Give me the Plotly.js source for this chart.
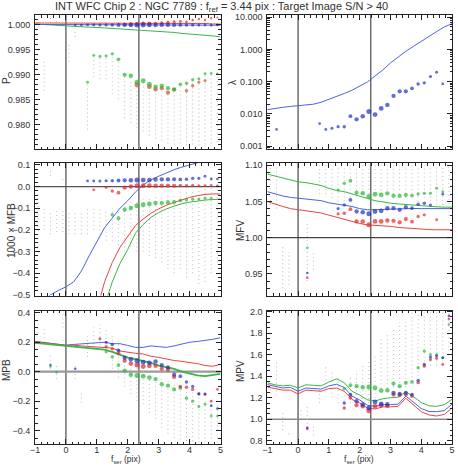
<!DOCTYPE html>
<html>
<head>
<meta charset="utf-8">
<script src="https://cdn.plot.ly/plotly-3.0.1.min.js"></script>
<style>
  html, body { margin: 0; padding: 0; background: #ffffff; }
  #chart { width: 458px; height: 466px; }
</style>
</head>
<body>
<div id="chart"></div>
<script>
const N = null;

// Bin centres (f_ser, pix) of the per-bin statistics and the number of stars per bin
const xBins = [-0.9,-0.7,-0.5,-0.3,-0.1,0.1,0.3,0.5,0.7,0.9,1.1,1.3,1.5,1.7,1.9,2.1,2.3,2.5,2.7,2.9,3.1,3.3,3.5,3.7,3.9,4.1,4.3,4.5,4.7,4.9];
const binStars = [2,3,2,2,2,2,3,3,4,5,6,7,9,14,20,24,32,30,28,22,20,20,18,12,9,8,6,5,4,3];

// Abscissae of the smoothed model curves
const lineX = [-1,-0.75,-0.5,-0.25,0,0.25,0.5,0.75,1,1.25,1.5,1.75,2,2.25,2.5,2.75,3,3.25,3.5,3.75,4,4.25,4.5,4.75,5];

// Reference positions marked in every panel
const markX = [0, 2.36];

// ---------- P ----------
const pRedLine   = [1.0004,1.0004,1.0003,1.0003,1.0003,1.0003,1.0003,1.0003,1.0003,1.0003,1.0003,1.0003,1.0003,1.0003,1.0003,1.0003,1.0003,1.0003,1.0003,1.0003,1.0003,1.0003,1.0003,1.0002,1.0002];
const pBlueLine  = [1.0001,1.0001,1.0000,1.0000,1.0000,1.0000,1.0000,1.0000,1.0000,1.0000,1.0000,1.0000,1.0000,1.0000,1.0000,1.0000,1.0000,1.0000,1.0000,1.0000,1.0000,1.0000,1.0000,1.0000,0.99995];
const pGreenLine = [1.0002,1.0001,1.0000,0.9998,0.9997,0.99965,0.9996,0.99955,0.9995,0.9994,0.99935,0.9993,0.99925,0.9991,0.99895,0.9988,0.9987,0.9986,0.9985,0.9983,0.9982,0.9981,0.9980,0.9978,0.9976];
const pBlueDots  = [N,N,N,N,N,N,1.0000,1.0000,1.0000,1.0000,1.0000,1.0000,1.0000,1.0000,1.0000,1.0000,1.0000,1.0000,1.0000,1.0000,1.0000,1.0000,1.0000,1.0000,1.0000,1.0000,1.0000,1.0000,0.99995,1.0000];
const pRedDots   = [N,N,N,N,N,N,N,N,N,N,N,N,N,N,1.0001,1.0002,1.0002,1.0003,1.0003,1.0003,1.0004,1.0005,1.0006,1.0007,1.0006,1.0010,1.0012,1.0010,1.0014,1.0015];
const pRedDots2  = [N,N,N,N,N,N,N,N,N,N,N,N,N,N,N,N,0.9880,N,0.9876,0.9871,0.9873,0.9864,0.9871,N,0.9868,0.9878,0.9885,0.9888,N,N];
const pGreenDots = [N,N,N,N,N,N,N,N,0.9885,0.9939,0.9937,0.9938,0.9942,0.9931,0.9900,0.9898,0.9885,0.9888,0.9881,0.9876,0.9878,0.9873,0.9870,0.9881,0.9883,0.9890,0.9892,0.9902,0.9903,0.9902];
const pStarX  = [-0.9,-0.7,-0.5,-0.3,0.1,0.3,0.7,0.9,1.1,1.3,1.5,1.7,1.9,2.1,2.3,2.5,2.7,2.9,3.1,3.3,3.5,3.7,3.9,4.1,4.3,4.5,4.7,4.9,1.7,2.5,3.3,4.1,4.7];
const pStarLo = [0.9995,0.9868,1.0004,0.9998,0.9926,0.9976,0.9790,0.9895,0.9891,0.9891,0.9861,0.9851,0.9813,0.9803,0.9793,0.9786,0.9778,0.9772,0.9768,0.9762,0.9760,0.9762,0.9758,0.9760,0.9758,0.9760,0.9762,0.9765,1.0004,1.0005,1.0006,1.0008,1.0010];
const pStarHi = [1.0012,0.9930,1.0014,1.0010,0.9966,0.9990,0.9885,0.9939,0.9937,0.9939,0.9942,0.9932,0.9902,0.9898,0.9890,0.9888,0.9882,0.9878,0.9878,0.9873,0.9870,0.9881,0.9883,0.9890,0.9892,0.9902,0.9903,0.9902,1.0010,1.0012,1.0013,1.0016,1.0018];

// ---------- lambda ----------
const lamBlueLine = [0.0135,0.015,0.016,0.017,0.018,0.0185,0.020,0.023,0.028,0.035,0.043,0.054,0.072,0.098,0.15,0.23,0.38,0.58,0.88,1.25,1.8,2.6,3.6,5.0,6.3];
const lamBlueDots = [N,0.0033,N,N,N,N,N,N,0.0050,0.0033,0.0036,0.0040,0.0040,0.0085,0.0068,0.0085,0.0118,0.0095,0.0148,0.0190,0.036,0.050,0.050,0.062,0.085,0.092,0.145,0.195,0.085,N];
const lamStarX  = [-0.9,-0.5,-0.3,0.3];
const lamStarLo = [0.0012,0.00100,0.00100,0.00100];
const lamStarHi = [0.0016,0.00108,0.00108,0.00108];

// ---------- 1000 x MFB ----------
const mfbBlueLine  = [-0.56,-0.53,-0.50,-0.48,-0.463,-0.44,-0.39,-0.32,-0.255,-0.19,-0.145,-0.10,-0.065,-0.025,0.008,0.031,0.048,0.064,0.078,0.09,0.10,0.11,0.12,0.13,0.14];
const mfbRedLine   = [N,N,N,N,N,N,-0.9,-0.72,-0.57,-0.44,-0.35,-0.28,-0.23,-0.18,-0.15,-0.123,-0.103,-0.086,-0.073,-0.06,-0.05,-0.042,-0.036,-0.034,-0.034];
const mfbGreenLine = [N,N,N,N,N,N,N,-0.95,-0.75,-0.55,-0.44,-0.355,-0.29,-0.215,-0.175,-0.142,-0.12,-0.103,-0.09,-0.079,-0.072,-0.066,-0.062,-0.06,-0.058];
const mfbBlueDots  = [N,N,N,N,N,N,N,N,0.026,0.026,0.026,0.027,0.027,0.028,0.029,0.029,0.030,0.030,0.030,0.033,0.033,0.033,0.034,0.033,0.034,0.038,0.038,0.048,0.035,0.035];
const mfbRedDots   = [N,N,N,N,N,N,N,N,N,-0.015,N,-0.003,-0.020,-0.028,-0.005,0.000,0.004,0.004,0.005,0.004,0.004,0.005,0.004,0.005,0.004,0.005,0.004,0.004,0.005,0.004];
const mfbGreenDots = [N,N,N,N,N,N,N,N,N,N,N,N,-0.130,-0.146,-0.107,-0.099,-0.089,-0.084,-0.080,-0.076,-0.076,-0.073,-0.071,-0.064,-0.061,-0.058,-0.057,-0.054,-0.054,N];
const mfbStarX  = [-0.9,-0.7,-0.5,-0.5,-0.3,-0.1,-0.1,0.1,0.3,0.5,0.7,0.9,1.1,1.3,1.5,1.7,1.9,2.1,2.3,2.5,2.7,2.9,3.1,3.3,3.5,3.7,3.9,4.1,4.3,4.5,4.7,4.9];
const mfbStarLo = [-0.28,-0.20,-0.22,0.05,-0.21,-0.21,0.03,-0.22,-0.22,-0.22,-0.22,-0.20,-0.24,-0.25,-0.25,-0.27,-0.30,-0.28,-0.30,-0.30,-0.32,-0.33,-0.35,-0.38,-0.40,-0.38,-0.42,-0.40,-0.45,-0.44,-0.40,-0.35];
const mfbStarHi = [-0.02,-0.10,-0.11,0.075,-0.11,-0.10,0.045,-0.12,-0.11,-0.11,-0.10,-0.10,-0.10,-0.11,-0.10,-0.10,-0.08,-0.07,-0.07,-0.05,-0.05,-0.04,-0.04,-0.03,-0.03,-0.02,-0.02,-0.02,-0.02,-0.01,0.0,0.0];

// ---------- MFV ----------
const mfvGreenLine = [1.0877,1.085,1.082,1.079,1.077,1.076,1.0745,1.072,1.068,1.065,1.0635,1.060,1.057,1.054,1.051,1.049,1.0475,1.0465,1.0455,1.0448,1.044,1.043,1.0425,1.042,1.042];
const mfvBlueLine  = [1.0634,1.060,1.0575,1.0555,1.0543,1.054,1.0525,1.051,1.048,1.0465,1.045,1.043,1.040,1.0385,1.0385,1.039,1.0395,1.040,1.0405,1.0402,1.040,1.040,1.040,1.040,1.040];
const mfvRedLine   = [1.0497,1.046,1.043,1.040,1.0385,1.038,1.0365,1.034,1.031,1.028,1.0245,1.022,1.0195,1.0175,1.017,1.0165,1.0155,1.014,1.013,1.012,1.0118,1.011,1.0108,1.0108,1.0108];
const mfvGreenDots = [N,N,N,N,N,N,0.986,N,N,N,N,1.0657,1.0749,1.0785,1.062,1.0611,1.0566,1.0598,1.0589,1.0611,1.0579,1.0575,1.0589,1.0579,1.0602,1.0611,1.0611,1.068,1.0634,N];
const mfvBlueDots  = [N,N,N,N,N,N,0.951,N,N,N,N,1.040,1.0451,1.052,1.036,1.035,1.0328,1.036,1.0369,1.0406,1.0406,1.0383,1.042,1.0406,1.046,1.0474,1.045,N,1.06,N];
const mfvRedDots   = [N,N,N,N,N,N,0.9445,N,N,N,N,1.0328,1.0337,1.0392,1.0223,1.0223,1.0177,1.0223,1.0223,1.0236,1.0232,1.021,1.0255,1.022,1.0291,1.0314,N,1.0246,N,N];
const mfvStarX  = [-0.9,-0.7,-0.5,-0.3,0.3,0.5,0.7,0.9,1.1,1.3,1.5,1.7,1.9,2.1,2.3,2.5,2.7,2.9,3.1,3.3,3.5,3.7,3.9,4.1,4.3,4.5,4.7,4.9];
const mfvStarLo = [1.045,1.04,0.93,0.935,0.94,0.955,1.06,1.06,1.055,1.05,1.05,1.055,1.06,1.06,1.055,1.06,1.06,1.06,1.055,1.06,1.055,1.06,1.05,1.055,1.05,1.04,1.045,1.03];
const mfvStarHi = [1.10,1.10,0.99,0.98,1.02,0.98,1.10,1.10,1.10,1.10,1.10,1.10,1.10,1.10,1.10,1.10,1.10,1.10,1.10,1.10,1.10,1.10,1.10,1.10,1.10,1.10,1.10,1.10];

// ---------- MPB ----------
const mpbBlueLine  = [0.205,0.198,0.192,0.185,0.18,0.185,0.19,0.19,0.195,0.2,0.19,0.19,0.178,0.165,0.165,0.175,0.17,0.165,0.175,0.19,0.2,0.205,0.21,0.22,0.23];
const mpbRedLine   = [0.205,0.2,0.19,0.185,0.178,0.18,0.175,0.17,0.17,0.165,0.16,0.14,0.13,0.125,0.12,0.105,0.097,0.085,0.076,0.07,0.065,0.055,0.042,0.037,0.05];
const mpbGreenLine = [0.195,0.19,0.185,0.18,0.175,0.165,0.16,0.155,0.152,0.15,0.135,0.115,0.095,0.085,0.075,0.06,0.042,0.03,0.019,0.0,-0.015,-0.025,-0.03,-0.025,-0.015];
const mpbBlueDots  = [N,N,0.045,N,N,N,0.02,N,N,N,N,0.20,0.185,0.145,0.095,0.085,0.075,0.065,0.06,0.07,0.045,0.03,-0.02,-0.03,-0.07,-0.10,-0.15,-0.15,-0.23,-0.25];
const mpbRedDots   = [N,N,N,N,N,N,N,N,N,N,0.223,0.17,0.155,0.125,0.075,0.055,0.045,0.035,0.04,0.04,0.02,0.015,-0.035,-0.10,-0.105,-0.12,-0.15,-0.155,-0.20,-0.12];
const mpbGreenDots = [N,N,0.035,-0.003,N,N,N,N,N,N,N,0.135,0.10,0.045,0.008,-0.02,-0.025,-0.03,-0.04,-0.05,-0.085,-0.095,-0.12,-0.11,-0.18,-0.20,-0.235,-0.22,-0.30,-0.30];
const mpbStarX  = [-0.9,-0.7,-0.5,-0.3,-0.1,-0.1,0.3,0.5,0.7,0.9,1.1,1.3,1.5,1.7,1.9,2.1,2.3,2.5,2.7,2.9,3.1,3.3,3.5,3.7,3.9,4.1,4.3,4.5,4.7,4.9];
const mpbStarLo = [0.26,0.20,0.02,-0.05,0.30,0.18,-0.05,-0.21,0.10,0.16,0.18,0.14,0.02,-0.04,-0.10,-0.15,-0.20,-0.22,-0.28,-0.32,-0.38,-0.42,-0.45,-0.46,-0.47,-0.47,-0.48,-0.48,-0.48,-0.48];
const mpbStarHi = [0.36,0.30,0.12,0.04,0.40,0.22,0.05,-0.14,0.24,0.30,0.32,0.30,0.26,0.22,0.10,0.08,0.05,0.02,0.0,-0.02,-0.04,-0.06,-0.08,-0.10,-0.12,-0.14,-0.16,-0.18,-0.20,-0.22];

// ---------- MPV ----------
const mpvGreenLine = [1.338,1.32,1.31,1.315,1.291,1.32,1.315,1.31,1.345,1.375,1.34,1.26,1.225,1.18,1.17,1.19,1.2,1.205,1.255,1.21,1.155,1.125,1.12,1.135,1.185];
const mpvBlueLine  = [1.322,1.305,1.29,1.295,1.26,1.29,1.285,1.28,1.31,1.325,1.295,1.215,1.18,1.13,1.12,1.135,1.135,1.14,1.215,1.16,1.1,1.072,1.07,1.08,1.14];
const mpvRedLine   = [1.30,1.285,1.27,1.27,1.235,1.27,1.265,1.26,1.285,1.29,1.26,1.185,1.15,1.105,1.095,1.115,1.115,1.12,1.195,1.13,1.07,1.04,1.03,1.045,1.105];
const mpvGreenDots = [N,N,N,N,N,N,N,N,N,N,N,N,1.285,1.316,1.307,1.297,1.300,1.29,1.266,1.27,1.331,1.307,1.338,1.347,1.478,1.633,1.602,1.60,1.571,1.88];
const mpvBlueDots  = [N,N,N,N,N,N,0.92,N,N,N,N,N,1.151,1.229,1.167,1.136,1.105,1.161,1.142,1.14,1.245,1.235,1.245,1.23,1.36,1.509,1.577,1.587,1.57,1.96];
const mpvRedDots   = [N,N,N,N,N,N,0.91,N,N,N,N,N,1.105,1.2,1.13,1.12,1.08,1.12,1.13,1.125,1.229,1.225,1.23,1.215,1.34,1.493,1.555,1.565,1.509,1.93];
const mpvStarX  = [-0.9,-0.7,-0.5,-0.3,0.1,0.3,0.5,0.7,0.9,1.1,1.3,1.5,1.7,1.9,2.1,2.3,2.5,2.7,2.9,3.1,3.3,3.5,3.7,3.9,4.1,4.3,4.5,4.7,4.9];
const mpvStarLo = [1.20,1.22,0.90,0.86,1.00,0.92,0.85,1.15,1.25,1.20,1.15,1.10,1.15,1.15,1.15,1.15,1.20,1.25,1.25,1.30,1.30,1.30,1.35,1.40,1.50,1.50,1.50,1.50,1.60];
const mpvStarHi = [1.35,1.55,1.06,0.90,1.10,1.12,0.95,1.30,1.50,1.45,1.40,1.35,1.40,1.45,1.50,1.55,1.60,1.75,1.80,1.85,1.90,1.90,2.00,2.00,2.00,2.00,2.00,2.00,2.00];

// ---------- drawing ----------
const RED = '#e3262b', GREEN = '#2bb83a', BLUE = '#1f30c4';
const RED_L = '#e8453f', GREEN_L = '#3cb544', BLUE_L = '#4d62e0';
const dotSize = binStars.map(n => 1.6 + 0.6 * Math.sqrt(n));

// individual stars: faint dotted columns per bin
function starTrace(xs, lo, hi, xa, ya) {
  const x = [], y = [];
  for (let i = 0; i < xs.length; i++) { x.push(xs[i], xs[i], null); y.push(lo[i], hi[i], null); }
  return { type: 'scatter', mode: 'lines', x, y, xaxis: xa, yaxis: ya,
           line: { color: '#bdbdbd', width: 1, dash: '1px,3px' }, hoverinfo: 'skip', showlegend: false };
}
function curve(ys, color, xa, ya, w) {
  return { type: 'scatter', mode: 'lines', x: lineX, y: ys, xaxis: xa, yaxis: ya,
           line: { color: color, width: w || 1 }, connectgaps: false, hoverinfo: 'skip', showlegend: false };
}
function dots(ys, color, xa, ya, scale) {
  return { type: 'scatter', mode: 'markers', x: xBins, y: ys, xaxis: xa, yaxis: ya,
           marker: { color: color, size: dotSize.map(s => s * (scale || 1)), line: { width: 0 } },
           cliponaxis: true, hoverinfo: 'skip', showlegend: false };
}

const traces = [
  starTrace(pStarX, pStarLo, pStarHi, 'x', 'y'),
  curve(pGreenLine, GREEN_L, 'x', 'y'), curve(pRedLine, RED_L, 'x', 'y'), curve(pBlueLine, BLUE_L, 'x', 'y'),
  dots(pRedDots2, '#d0502a', 'x', 'y'), dots(pGreenDots, GREEN, 'x', 'y'),
  dots(pRedDots, RED, 'x', 'y', 0.8), dots(pBlueDots, BLUE, 'x', 'y'),

  starTrace(lamStarX, lamStarLo, lamStarHi, 'x2', 'y2'),
  curve(lamBlueLine, BLUE_L, 'x2', 'y2'),
  dots(lamBlueDots, BLUE, 'x2', 'y2'),

  starTrace(mfbStarX, mfbStarLo, mfbStarHi, 'x3', 'y3'),
  curve(mfbBlueLine, BLUE_L, 'x3', 'y3'), curve(mfbRedLine, RED_L, 'x3', 'y3'), curve(mfbGreenLine, GREEN_L, 'x3', 'y3'),
  dots(mfbRedDots, RED, 'x3', 'y3'), dots(mfbGreenDots, GREEN, 'x3', 'y3'), dots(mfbBlueDots, BLUE, 'x3', 'y3'),

  starTrace(mfvStarX, mfvStarLo, mfvStarHi, 'x4', 'y4'),
  curve(mfvGreenLine, GREEN_L, 'x4', 'y4'), curve(mfvBlueLine, BLUE_L, 'x4', 'y4'), curve(mfvRedLine, RED_L, 'x4', 'y4'),
  dots(mfvRedDots, RED, 'x4', 'y4'), dots(mfvGreenDots, GREEN, 'x4', 'y4'), dots(mfvBlueDots, BLUE, 'x4', 'y4'),

  starTrace(mpbStarX, mpbStarLo, mpbStarHi, 'x5', 'y5'),
  curve(mpbBlueLine, BLUE_L, 'x5', 'y5'), curve(mpbRedLine, RED_L, 'x5', 'y5'), curve(mpbGreenLine, GREEN_L, 'x5', 'y5', 1.8),
  dots(mpbGreenDots, GREEN, 'x5', 'y5'), dots(mpbRedDots, RED, 'x5', 'y5'), dots(mpbBlueDots, BLUE, 'x5', 'y5'),

  starTrace(mpvStarX, mpvStarLo, mpvStarHi, 'x6', 'y6'),
  curve(mpvGreenLine, GREEN_L, 'x6', 'y6'), curve(mpvBlueLine, BLUE_L, 'x6', 'y6'), curve(mpvRedLine, RED_L, 'x6', 'y6'),
  dots(mpvGreenDots, GREEN, 'x6', 'y6'), dots(mpvRedDots, RED, 'x6', 'y6'), dots(mpvBlueDots, BLUE, 'x6', 'y6')
];

// Panel geometry (paper fractions of the 458 x 466 figure)
const W = 458, H = 466;
const colL = [35 / W, 220.5 / W], colR = [267.3 / W, 452 / W];
const row1 = [(H - 149) / H, (H - 15) / H];
const row2 = [(H - 295.5) / H, (H - 163) / H];
const row3 = [(H - 444) / H, (H - 310.5) / H];

const FONT = 'Liberation Sans, Arial, Helvetica, sans-serif';
const tickFont = { family: FONT, size: 9, color: '#333333' };
const FRAME = '#222222';

function xAxis(domain, anchor, labels) {
  return { domain, anchor, range: [-1, 5], tickmode: 'linear', tick0: 0, dtick: 1,
    showticklabels: labels, tickfont: tickFont, ticks: 'inside', ticklen: 5, tickwidth: 1, tickcolor: FRAME,
    ticklabelstandoff: -3,
    minor: { ticks: 'inside', ticklen: 2.5, tickwidth: 1, tickcolor: FRAME, dtick: 0.2, tick0: 0, showgrid: false },
    showline: true, linecolor: FRAME, linewidth: 1, mirror: 'allticks',
    showgrid: false, zeroline: false, fixedrange: true, automargin: false };
}
function yAxis(domain, anchor, range, dtick, minorDtick, fmt) {
  return { domain, anchor, range, tickmode: 'linear', tick0: 0, dtick, tickformat: fmt,
    tickfont: tickFont, ticks: 'inside', ticklen: 5, tickwidth: 1, tickcolor: FRAME, ticklabelstandoff: 2,
    minor: { ticks: 'inside', ticklen: 2.5, tickwidth: 1, tickcolor: FRAME, dtick: minorDtick, tick0: 0, showgrid: false },
    showline: true, linecolor: FRAME, linewidth: 1, mirror: 'allticks',
    showgrid: false, zeroline: false, fixedrange: true, automargin: false };
}

const lamAxis = yAxis(row1, 'x2', [-3.09, 1.07], 1, null, '.3f');
lamAxis.type = 'log';
lamAxis.tick0 = 0;
lamAxis.minor = { ticks: 'inside', ticklen: 2.5, tickwidth: 1, tickcolor: FRAME, showgrid: false };

// Reference markers: vertical lines at markX in all panels, horizontal unity/zero lines
const shapes = [];
['x', 'x2', 'x3', 'x4', 'x5', 'x6'].forEach((xa, i) => {
  const ya = 'y' + (i === 0 ? '' : i + 1);
  markX.forEach(v => shapes.push({ type: 'line', layer: 'below', xref: xa, yref: ya + ' domain',
    x0: v, x1: v, y0: 0, y1: 1, line: { color: '#6e6e6e', width: 1.5 } }));
});
const hLines = [['y3', 0, '#555555', 1.2], ['y4', 1, '#444444', 1.2], ['y5', 0, '#9a9a9a', 2.2], ['y6', 1, '#8a8a8a', 1.5]];
hLines.forEach(([ya, v, c, w]) => shapes.push({ type: 'line', layer: 'below', xref: 'x' + ya.slice(1) + ' domain', yref: ya,
  x0: 0, x1: 1, y0: v, y1: v, line: { color: c, width: w } }));

function ann(text, px, py, angle, size, yanchor) {
  return { text, x: px / W, y: 1 - py / H, xref: 'paper', yref: 'paper', showarrow: false,
    xanchor: 'center', yanchor: yanchor || 'middle', textangle: angle || 0, borderpad: 0,
    font: { family: FONT, size: size || 10, color: '#333333' } };
}

const layout = {
  width: W, height: H, margin: { l: 0, r: 0, t: 0, b: 0 },
  paper_bgcolor: '#ffffff', plot_bgcolor: '#ffffff', showlegend: false, hovermode: false,
  xaxis:  xAxis(colL, 'y',  false),
  xaxis2: xAxis(colR, 'y2', false),
  xaxis3: xAxis(colL, 'y3', false),
  xaxis4: xAxis(colR, 'y4', false),
  xaxis5: xAxis(colL, 'y5', true),
  xaxis6: xAxis(colR, 'y6', true),
  yaxis:  yAxis(row1, 'x',  [0.9751, 1.002], 0.005, 0.001, '.3f'),
  yaxis2: lamAxis,
  yaxis3: yAxis(row2, 'x3', [-0.503, 0.109], 0.1, 0.02, '.1f'),
  yaxis4: yAxis(row2, 'x4', [0.92, 1.103], 0.05, 0.01, '.2f'),
  yaxis5: yAxis(row3, 'x5', [-0.49, 0.415], 0.2, 0.05, '.1f'),
  yaxis6: yAxis(row3, 'x6', [0.77, 2.01], 0.2, 0.05, '.1f'),
  shapes,
  annotations: [
    ann('INT WFC Chip 2 : NGC 7789 : f<sub>ref</sub> = 3.44 pix : Target Image S/N &gt; 40', 221, 7, 0, 11),
    ann('P', 7, 81, -90),
    ann('λ', 232, 82, -90),
    ann('1000 × MFB', 11, 231, -90),
    ann('MFV', 240, 231, -90),
    ann('MPB', 6, 370, -90),
    ann('MPV', 240, 371, -90),
    ann('f<sub>ser</sub> (pix)', 126, 466, 0, 8.5, 'bottom'),
    ann('f<sub>ser</sub> (pix)', 359, 466, 0, 8.5, 'bottom')
  ]
};

Plotly.newPlot('chart', traces, layout, { staticPlot: true, displayModeBar: false });
</script>
</body>
</html>
